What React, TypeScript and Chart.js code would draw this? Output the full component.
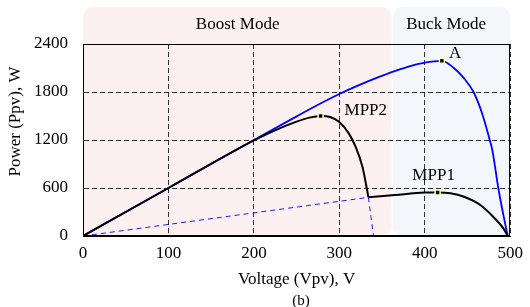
import React, { useEffect, useRef } from 'react';
import { Chart, registerables } from 'chart.js';

Chart.register(...registerables);

// ---- data ----
const blueV = [0, 100, 200, 250, 275, 300, 325, 345, 363, 380, 400, 420, 434, 446, 457, 467, 476, 479, 486, 492, 497];
const blueP = [0, 600, 1200, 1495, 1640, 1775, 1895, 1982, 2055, 2115, 2168, 2190, 2100, 1970, 1800, 1535, 1200, 1075, 600, 260, 0];

const blackRiseV = [0, 100, 200, 230, 250, 265, 278, 290, 300, 311, 319, 327, 331, 334];
const blackRiseP = [0, 600, 1195, 1345, 1430, 1480, 1500, 1485, 1425, 1283, 1116, 865, 660, 483];

const blackTailV = [334, 365, 400, 415, 430, 446, 465, 480, 492, 497];
const blackTailP = [483, 512, 543, 545, 535, 491, 387, 241, 96, 0];

const dashLineV = [0, 334];
const dashLineP = [0, 483];
const dashDropV = [334, 337, 340];
const dashDropP = [483, 241, 0];

const markerNames = ['A', 'MPP2', 'MPP1'];
const markerV = [420, 278, 415];
const markerP = [2190, 1500, 543];

const xTicks = [0, 100, 200, 300, 400, 500];
const yTicks = [0, 600, 1200, 1800, 2400];

const modeNames = ['Boost Mode', 'Buck Mode'];
const boostRange = [0, 361];
const buckRange = [362.5, 500];
const modeLabelV = [181, 425];

const xTitle = 'Voltage (Vpv), V';
const yTitle = 'Power (Ppv), W';
const caption = '(b)';

const FONT = "'Liberation Serif', 'Times New Roman', serif";

function pts(xs: number[], ys: number[]) {
  return xs.map((x, i) => ({ x, y: ys[i] }));
}

function roundRect(ctx: CanvasRenderingContext2D, x: number, y: number, w: number, h: number, r: number) {
  ctx.beginPath();
  ctx.moveTo(x + r, y);
  ctx.lineTo(x + w - r, y);
  ctx.arcTo(x + w, y, x + w, y + r, r);
  ctx.lineTo(x + w, y + h - r);
  ctx.arcTo(x + w, y + h, x + w - r, y + h, r);
  ctx.lineTo(x + r, y + h);
  ctx.arcTo(x, y + h, x, y + h - r, r);
  ctx.lineTo(x, y + r);
  ctx.arcTo(x, y, x + r, y, r);
  ctx.closePath();
}

const labelOffsets: Record<string, { dx: number; dy: number; align: CanvasTextAlign }> = {
  A: { dx: 7, dy: -7, align: 'left' },
  MPP2: { dx: 24, dy: -5, align: 'left' },
  MPP1: { dx: -4, dy: -17, align: 'center' },
};

const decor = {
  id: 'decor',
  beforeDraw(chart: any) {
    const { ctx, chartArea: ca, scales } = chart;
    const x = scales.x;
    const top = ca.top - 37;
    const bottom = ca.bottom;
    ctx.save();
    const b0 = x.getPixelForValue(boostRange[0]);
    const b1 = x.getPixelForValue(boostRange[1]);
    ctx.fillStyle = '#fdf0f0';
    roundRect(ctx, b0, top, b1 - b0, bottom - top, 10);
    ctx.fill();
    const k0 = x.getPixelForValue(buckRange[0]);
    const k1 = x.getPixelForValue(buckRange[1]);
    ctx.fillStyle = '#f3f6fa';
    roundRect(ctx, k0, top, k1 - k0, bottom - top, 10);
    ctx.fill();
    ctx.fillStyle = '#000';
    ctx.font = `17px ${FONT}`;
    ctx.textAlign = 'center';
    ctx.textBaseline = 'middle';
    ctx.fillText(modeNames[0], x.getPixelForValue(modeLabelV[0]), top + 18);
    ctx.fillText(modeNames[1], x.getPixelForValue(modeLabelV[1]), top + 18);
    ctx.restore();
  },
  afterDraw(chart: any) {
    const { ctx, chartArea: ca, scales } = chart;
    const x = scales.x;
    const y = scales.y;
    ctx.save();
    ctx.setLineDash([]);
    ctx.strokeStyle = '#000';
    ctx.lineWidth = 1;
    const l = Math.round(ca.left) + 0.5;
    const r = Math.round(ca.right) - 0.5;
    const t = Math.round(ca.top) + 0.5;
    const b = Math.round(ca.bottom) - 0.5;
    ctx.strokeRect(l, t, r - l, b - t);
    ctx.fillStyle = '#000';
    ctx.font = `17px ${FONT}`;
    ctx.textBaseline = 'middle';
    markerNames.forEach((name, i) => {
      const o = labelOffsets[name];
      ctx.textAlign = o.align;
      ctx.fillText(name, x.getPixelForValue(markerV[i]) + o.dx, y.getPixelForValue(markerP[i]) + o.dy);
    });
    ctx.save();
    ctx.translate(16, 121.5);
    ctx.rotate(-Math.PI / 2);
    ctx.textAlign = 'center';
    ctx.fillText(yTitle, 0, 0);
    ctx.restore();
    ctx.font = `15px ${FONT}`;
    ctx.textAlign = 'center';
    ctx.fillText(caption, 301, 301);
    ctx.restore();
  },
};

export default function App() {
  const ref = useRef<HTMLCanvasElement>(null);

  useEffect(() => {
    if (!ref.current) return;
    const tickFont = { family: FONT, size: 17 };
    const fmt = (v: any) => String(v);
    const chart = new Chart(ref.current, {
      type: 'line',
      data: {
        datasets: [
          {
            label: 'markers',
            data: pts(markerV, markerP),
            showLine: false,
            pointStyle: 'rect',
            pointRadius: 3.5,
            pointBackgroundColor: '#000',
            pointBorderColor: '#ffffc4',
            pointBorderWidth: 1.5,
            order: 0,
          } as any,
          {
            label: 'black rise',
            data: pts(blackRiseV, blackRiseP),
            borderColor: '#000',
            borderWidth: 2,
            pointRadius: 0,
            cubicInterpolationMode: 'monotone',
            order: 1,
          },
          {
            label: 'black tail',
            data: pts(blackTailV, blackTailP),
            borderColor: '#000',
            borderWidth: 2,
            pointRadius: 0,
            cubicInterpolationMode: 'monotone',
            order: 1,
          },
          {
            label: 'blue',
            data: pts(blueV, blueP),
            borderColor: '#0000ff',
            borderWidth: 1.8,
            pointRadius: 0,
            cubicInterpolationMode: 'monotone',
            order: 2,
          },
          {
            label: 'dash line',
            data: pts(dashLineV, dashLineP),
            borderColor: '#1a1aff',
            borderWidth: 1,
            borderDash: [5, 4],
            pointRadius: 0,
            order: 3,
          },
          {
            label: 'dash drop',
            data: pts(dashDropV, dashDropP),
            borderColor: '#1a1aff',
            borderWidth: 1,
            borderDash: [5, 4],
            pointRadius: 0,
            cubicInterpolationMode: 'monotone',
            order: 3,
          },
        ],
      },
      options: {
        responsive: false,
        animation: false,
        layout: { padding: { top: 44, right: 13, left: 0, bottom: 0 } },
        plugins: {
          legend: { display: false },
          tooltip: { enabled: false },
        },
        scales: {
          x: {
            type: 'linear',
            min: 0,
            max: 500,
            afterBuildTicks: (s: any) => {
              s.ticks = xTicks.map((v) => ({ value: v }));
            },
            afterFit: (s: any) => {
              s.height = 71;
            },
            ticks: { font: tickFont, color: '#000', padding: 7, maxRotation: 0, callback: fmt },
            grid: {
              color: 'rgba(0,0,0,0.8)',
              lineWidth: 1,
              drawTicks: false,
              borderDash: [5, 3],
            } as any,
            border: { display: true, color: '#000', width: 1, dash: [5, 3] } as any,
            title: {
              display: true,
              text: xTitle,
              color: '#000',
              font: { family: FONT, size: 17 },
              padding: { top: 0, bottom: 17 },
            },
          },
          y: {
            type: 'linear',
            min: 0,
            max: 2400,
            afterBuildTicks: (s: any) => {
              s.ticks = yTicks.map((v) => ({ value: v }));
            },
            afterFit: (s: any) => {
              s.width = 83;
            },
            ticks: { font: tickFont, color: '#000', padding: 15, callback: fmt },
            grid: {
              color: 'rgba(0,0,0,0.8)',
              lineWidth: 1,
              drawTicks: false,
              borderDash: [5, 3],
            } as any,
            border: { display: true, color: '#000', width: 1, dash: [5, 3] } as any,
          },
        },
      },
      plugins: [decor],
    });
    return () => chart.destroy();
  }, []);

  return (
    <div style={{ position: 'absolute', left: 0, top: 0, width: 530, height: 307 }}>
      <canvas ref={ref} width={530} height={307} style={{ display: 'block', width: 530, height: 307 }} />
    </div>
  );
}
